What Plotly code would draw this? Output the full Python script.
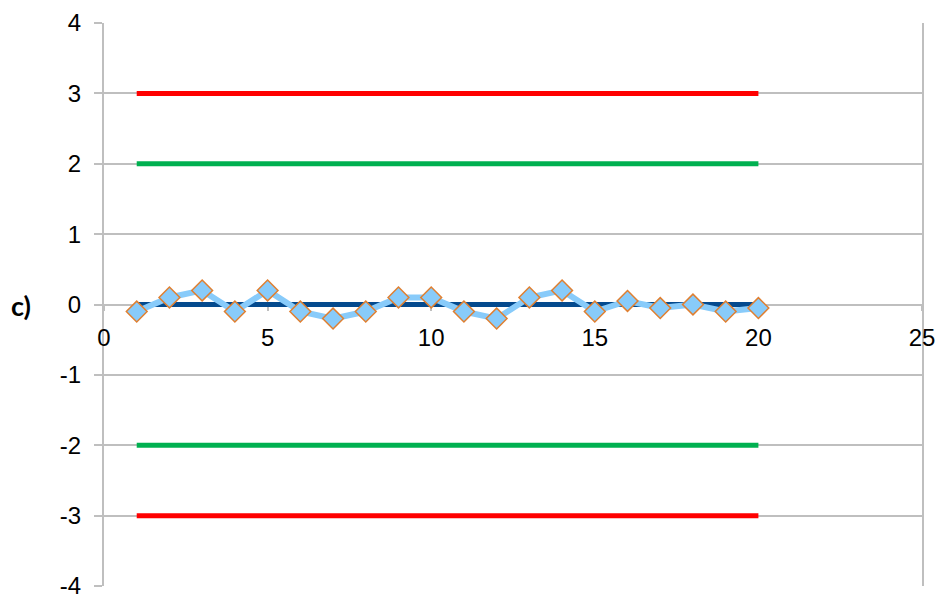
import plotly.graph_objects as go

# Data
x_points = list(range(1, 21))
measurements = [-0.1, 0.1, 0.2, -0.1, 0.2, -0.1, -0.2, -0.1, 0.1, 0.1,
                -0.1, -0.2, 0.1, 0.2, -0.1, 0.05, -0.05, 0.0, -0.1, -0.05]
center_value = 0.0
warning_limit = 2.0
control_limit = 3.0
x_ticks = [0, 5, 10, 15, 20, 25]
y_ticks = [-4, -3, -2, -1, 0, 1, 2, 3, 4]

RED = "#FF0000"
GREEN = "#00B050"
DARK_BLUE = "#044A8E"
LIGHT_BLUE = "#88CBFA"
ORANGE = "#E07F30"
GRID = "#BFBFBF"

W, H = 941, 601
ML, MR, MT, MB = 104, 19, 23, 15

fig = go.Figure()

def hline(val, color):
    fig.add_trace(go.Scatter(x=x_points, y=[val] * len(x_points), mode="lines",
                             line=dict(color=color, width=5), hoverinfo="skip",
                             showlegend=False))

hline(control_limit, RED)
hline(-control_limit, RED)
hline(warning_limit, GREEN)
hline(-warning_limit, GREEN)
hline(center_value, DARK_BLUE)

fig.add_trace(go.Scatter(
    x=x_points, y=measurements, mode="lines+markers",
    line=dict(color=LIGHT_BLUE, width=6),
    marker=dict(symbol="diamond", size=16, color=LIGHT_BLUE,
                line=dict(color=ORANGE, width=1.5)),
    showlegend=False))

fig.update_layout(
    width=W, height=H,
    margin=dict(l=ML, r=MR, t=MT, b=MB),
    plot_bgcolor="white", paper_bgcolor="white",
    font=dict(family="Liberation Sans, Arial", size=24, color="black"),
    showlegend=False,
)

fig.update_yaxes(
    range=[-4, 4], tickvals=y_ticks, ticktext=[str(v) for v in y_ticks],
    showgrid=True, gridcolor=GRID, gridwidth=2,
    zeroline=False, automargin=False,
    showline=True, linecolor=GRID, linewidth=2, mirror=True,
    ticks="outside", ticklen=8, tickcolor=GRID, tickwidth=2,
    ticklabelstandoff=8, layer="below traces",
)

fig.update_xaxes(
    range=[0, 25], tickvals=x_ticks, ticktext=[str(v) for v in x_ticks],
    showgrid=False, zeroline=False, automargin=False,
    anchor="free", position=0.5,
    showline=True, linecolor=GRID, linewidth=2,
    ticks="outside", ticklen=5, tickcolor=GRID, tickwidth=2,
    ticklabelstandoff=7, layer="below traces",
)

fig.add_annotation(
    x=(9 - ML) / (W - ML - MR), y=1 - (305 - MT) / (H - MT - MB),
    xref="paper", yref="paper", xanchor="left", yanchor="middle",
    text="<b>c)</b>",
    showarrow=False, font=dict(family="Lato, Open Sans, Liberation Sans", size=27, color="black"),
)

fig.write_html(
    "out.html",
    config={"displayModeBar": False},
    post_script="document.body.style.margin='0';document.body.style.overflow='hidden';",
)
